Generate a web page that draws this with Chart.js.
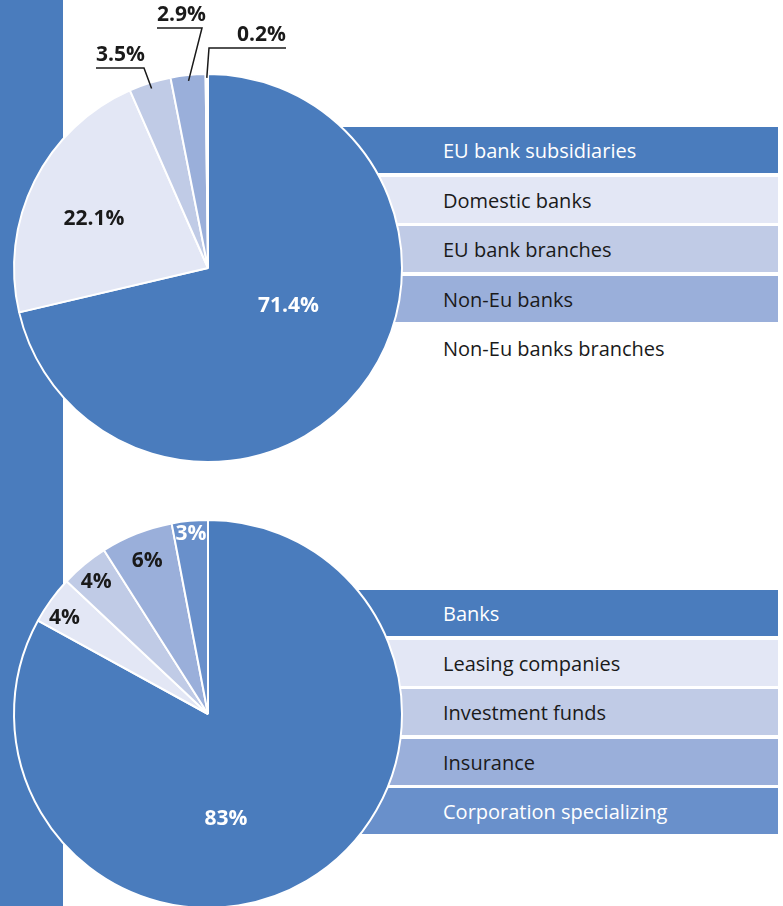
<!DOCTYPE html>
<html lang="en">
<head>
  <meta charset="UTF-8">
  <title>Structure of the financial sector</title>
  <script src="https://cdn.jsdelivr.net/npm/chart.js"></script>
  <style>
    body {
      margin: 0;
      width: 783px;
      height: 906px;
      overflow: hidden;
      background: #ffffff;
      font-family: "Open Sans", sans-serif;
      position: relative;
    }
    .side-bar {
      position: absolute;
      left: 0;
      top: 0;
      width: 63px;
      height: 906px;
      background: #4a7cbd;
    }
    .legend {
      position: absolute;
      left: 250px;
      width: 528px;
      margin: 0;
      padding: 0;
      list-style: none;
    }
    .legend li {
      height: 46px;
      margin-bottom: 3.6px;
      line-height: 47px;
      padding-left: 193px;
      font-size: 20px;
      box-sizing: border-box;
      white-space: nowrap;
    }
    canvas {
      position: absolute;
      left: 0;
    }
  </style>
</head>
<body>
  <div class="side-bar"></div>
  <ul class="legend" id="topLegend" style="top:127px"></ul>
  <ul class="legend" id="bottomLegend" style="top:590px"></ul>
  <canvas id="topPie" width="416" height="536" style="top:0"></canvas>
  <canvas id="bottomPie" width="416" height="416" style="top:506px"></canvas>

  <script>
    // banks by type (share, %)
    const topLabels = ["EU bank subsidiaries", "Domestic banks", "EU bank branches", "Non-Eu banks", "Non-Eu banks branches"];
    const topValues = [71.4, 22.1, 3.5, 2.9, 0.2];

    // financial sector by institution (share, %)
    const bottomLabels = ["Banks", "Leasing companies", "Investment funds", "Insurance", "Corporation specializing"];
    const bottomValues = [83, 4, 4, 6, 3];

    const topColors = ["#4a7cbd", "#e3e7f5", "#c0cbe6", "#9aafda", "#ffffff"];
    const bottomColors = ["#4a7cbd", "#e3e7f5", "#c0cbe6", "#9aafda", "#6990cb"];
    const topTextColors = ["#ffffff", "#1a1a1a", "#1a1a1a", "#1a1a1a", "#1a1a1a"];
    const bottomTextColors = ["#ffffff", "#1a1a1a", "#1a1a1a", "#1a1a1a", "#ffffff"];

    // where each % label sits: f = fraction along the slice, r = fraction of radius
    // callouts: elbow offset from the centre, end = x offset where the underline stops
    const topPlacement = [
      { f: 0.45, r: 0.46 },
      { f: 0.46, r: 0.64 },
      { f: 0.5, r: 0.97, elbow: [-64, -200], end: -112 },
      { f: 0.5, r: 0.97, elbow: [-6, -240], end: -51 },
      { f: 0.5, r: 0.98, elbow: [1, -220], end: 78 }
    ];
    const bottomPlacement = [
      { f: 0.57, r: 0.55 },
      { f: 0.34, r: 0.89 },
      { f: 0.45, r: 0.89 },
      { f: 0.5, r: 0.85 },
      { f: 0.5, r: 0.93 }
    ];

    const sliceLabels = {
      id: "sliceLabels",
      afterDatasetsDraw(chart, args, opts) {
        const ctx = chart.ctx;
        const arcs = chart.getDatasetMeta(0).data;
        const values = chart.data.datasets[0].data;
        ctx.save();
        ctx.font = 'bold 21px "Open Sans"';
        arcs.forEach((arc, i) => {
          const p = opts.place[i];
          const text = values[i].toFixed(opts.decimals) + "%";
          const a = arc.startAngle + (arc.endAngle - arc.startAngle) * p.f;
          const r = arc.outerRadius * p.r;
          const x = arc.x + Math.cos(a) * r;
          const y = arc.y + Math.sin(a) * r;
          ctx.fillStyle = opts.colors[i];
          if (!p.elbow) {
            ctx.textAlign = "center";
            ctx.textBaseline = "middle";
            ctx.fillText(text, x, y);
            return;
          }
          const ex = arc.x + p.elbow[0];
          const ey = arc.y + p.elbow[1];
          const tx = arc.x + p.end;
          ctx.strokeStyle = "#1a1a1a";
          ctx.lineWidth = 1.5;
          ctx.beginPath();
          ctx.moveTo(x, y);
          ctx.lineTo(ex, ey);
          ctx.lineTo(tx, ey);
          ctx.stroke();
          ctx.textAlign = tx < ex ? "left" : "right";
          ctx.textBaseline = "alphabetic";
          ctx.fillText(text, tx, ey - 7);
        });
        ctx.restore();
      }
    };

    function buildLegend(id, labels, colors, textColors) {
      const ul = document.getElementById(id);
      labels.forEach((label, i) => {
        const li = document.createElement("li");
        li.textContent = label;
        li.style.background = colors[i];
        li.style.color = textColors[i];
        ul.appendChild(li);
      });
    }

    function makePie(canvasId, labels, values, colors, labelColors, place, decimals) {
      return new Chart(document.getElementById(canvasId), {
        type: "pie",
        data: {
          labels: labels,
          datasets: [{
            data: values,
            backgroundColor: colors,
            borderColor: "#ffffff",
            borderWidth: 2
          }]
        },
        options: {
          responsive: false,
          animation: false,
          radius: 194,
          layout: { padding: 0 },
          plugins: {
            legend: { display: false },
            tooltip: { enabled: false },
            sliceLabels: { place: place, colors: labelColors, decimals: decimals }
          }
        },
        plugins: [sliceLabels]
      });
    }

    buildLegend("topLegend", topLabels, topColors, topTextColors);
    buildLegend("bottomLegend", bottomLabels, bottomColors, bottomTextColors);
    makePie("topPie", topLabels, topValues, topColors, topTextColors, topPlacement, 1);
    makePie("bottomPie", bottomLabels, bottomValues, bottomColors, bottomTextColors, bottomPlacement, 0);
  </script>
</body>
</html>
